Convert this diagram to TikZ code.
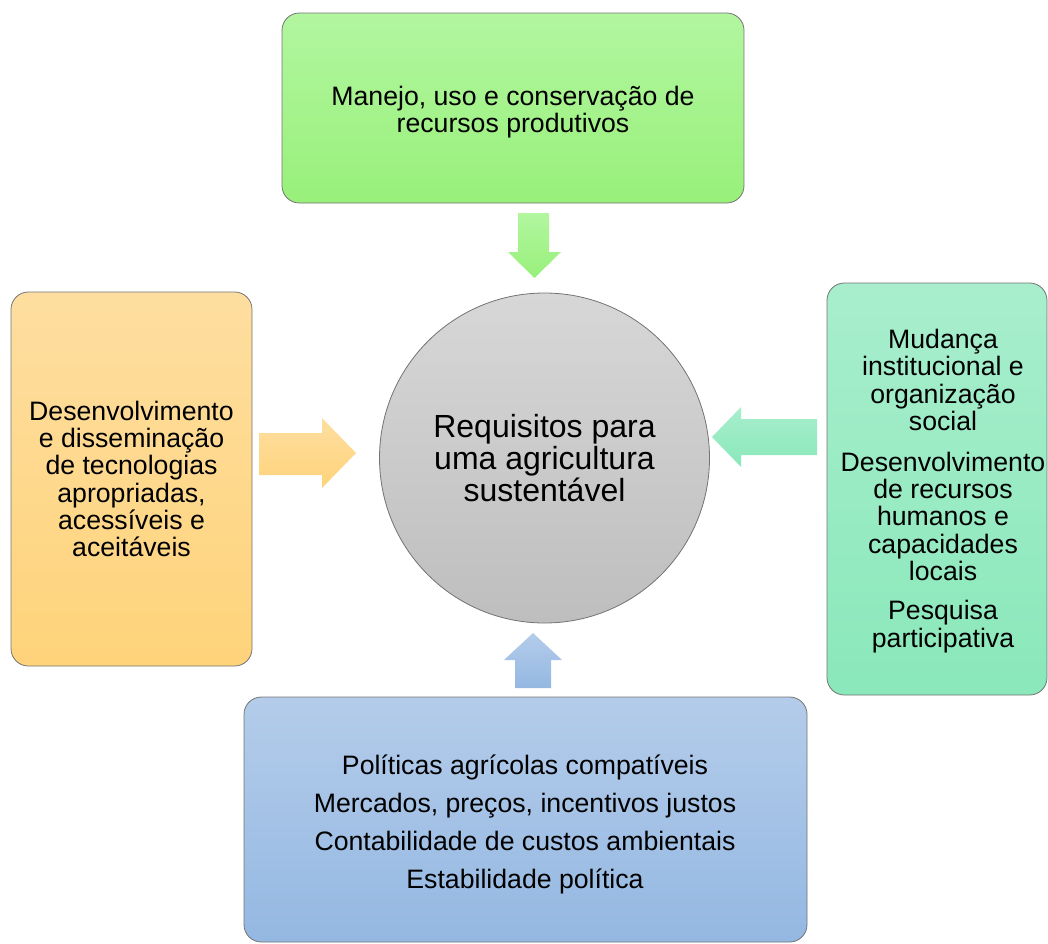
\documentclass[tikz,border=0pt]{standalone}
\usepackage{fontspec}
\setmainfont{Liberation Sans}
\definecolor{greenT}{RGB}{178,246,160}
\definecolor{greenB}{RGB}{152,240,122}
\definecolor{orangeT}{RGB}{254,222,160}
\definecolor{orangeB}{RGB}{254,211,122}
\definecolor{mintT}{RGB}{168,238,205}
\definecolor{mintB}{RGB}{138,232,186}
\definecolor{blueT}{RGB}{180,204,234}
\definecolor{blueB}{RGB}{148,184,226}
\definecolor{greyT}{RGB}{215,215,215}
\definecolor{greyB}{RGB}{190,190,190}
\definecolor{edge}{RGB}{115,115,115}
\begin{document}
\begin{tikzpicture}[x=0.75pt,y=-0.75pt,
  box/.style={draw=edge, line width=0.6pt, rounded corners=13pt, inner sep=0pt},
  txt/.style={align=center, font=\fontsize{20}{20.5}\selectfont, inner sep=0pt},
  bigtxt/.style={align=center, font=\fontsize{24}{24}\selectfont, inner sep=0pt}]
\useasboundingbox (0,0) rectangle (1048,943);

% boxes
\node[box, top color=greenT, bottom color=greenB, minimum width=346.5pt, minimum height=142.5pt] (top) at (513,108) {};
\node[box, top color=orangeT, bottom color=orangeB, minimum width=180.75pt, minimum height=280.5pt] (left) at (131.5,479) {};
\node[box, top color=mintT, bottom color=mintB, minimum width=165pt, minimum height=309pt] (right) at (937,489) {};
\node[box, top color=blueT, bottom color=blueB, minimum width=422.25pt, minimum height=183.75pt] (bottom) at (525.5,819.5) {};
\node[circle, draw=edge, line width=0.6pt, top color=greyT, bottom color=greyB, minimum size=247.5pt, inner sep=0pt] (hub) at (544.5,458) {};

% texts
\node[txt] (toptext) at (513,111.8) {Manejo, uso e conservação de\\recursos produtivos};
\node[txt] (lefttext) at (131.5,479) {Desenvolvimento\\e disseminação\\de tecnologias\\apropriadas,\\acessíveis e\\aceitáveis};
\node[txt] (righttext) at (943,491) {Mudança\\institucional e\\organização\\social\\[10pt]Desenvolvimento\\de recursos\\humanos e\\capacidades\\locais\\[9pt]Pesquisa\\participativa};
\node[txt] (bottomtext) at (525,824) {Políticas agrícolas compatíveis\\[8pt]Mercados, preços, incentivos justos\\[8pt]Contabilidade de custos ambientais\\[8pt]Estabilidade política};
\node[bigtxt] (hubtext) at (544.5,457.7) {Requisitos para\\uma agricultura\\sustentável};

% block arrows
\path[top color=greenT, bottom color=greenB] (518,213) -- (549,213) -- (549,252) -- (561,252) -- (534.5,278) -- (508,252) -- (518,252) -- cycle;
\path[top color=orangeT, bottom color=orangeB] (259,433) -- (322,433) -- (322,418) -- (356,453) -- (322,488) -- (322,475) -- (259,475) -- cycle;
\path[top color=mintT, bottom color=mintB] (817,419) -- (741,419) -- (741,407) -- (712,437) -- (741,467) -- (741,455) -- (817,455) -- cycle;
\path[top color=blueT, bottom color=blueB] (533,633) -- (562,660) -- (551,660) -- (551,688) -- (515,688) -- (515,660) -- (504,660) -- cycle;
\end{tikzpicture}
\end{document}
